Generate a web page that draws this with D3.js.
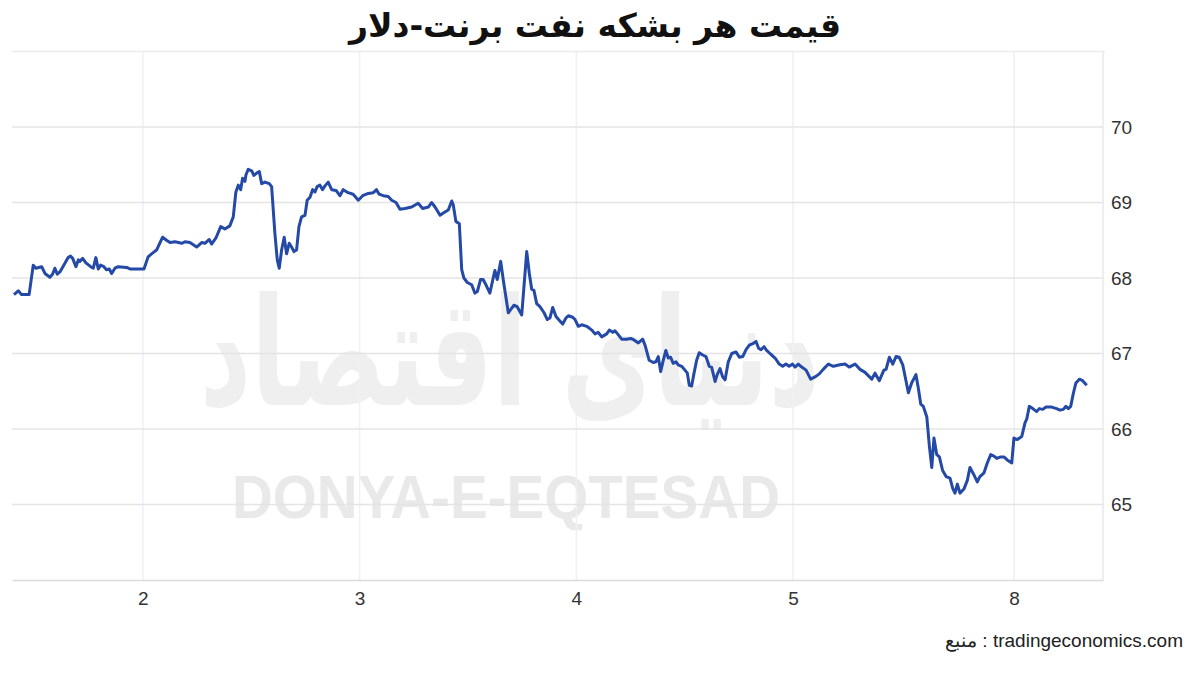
<!DOCTYPE html>
<html>
<head>
<meta charset="utf-8">
<title>Brent</title>
<script src="https://d3js.org/d3.v7.min.js"></script>
<style>
  body { margin: 0; padding: 0; background: #fff; overflow: hidden; }
  svg { display: block; }
</style>
</head>
<body>
<script>
// trading-day position (2 = first tick) and price in dollars
var days = [
  1.405, 1.425, 1.44, 1.475, 1.494, 1.506, 1.533, 1.548, 1.571, 1.583, 1.594, 1.605, 1.617, 1.635,
  1.655, 1.666, 1.676, 1.691, 1.702, 1.709, 1.722, 1.737, 1.759, 1.771, 1.783, 1.794, 1.805, 1.82,
  1.832, 1.845, 1.856, 1.871, 1.886, 1.925, 1.94, 2.005, 2.024, 2.04, 2.063, 2.091, 2.109, 2.125,
  2.148, 2.179, 2.194, 2.217, 2.248, 2.271, 2.286, 2.306, 2.317, 2.337, 2.359, 2.378, 2.401,
  2.417, 2.429, 2.440, 2.451, 2.460, 2.471, 2.475, 2.486, 2.502, 2.512, 2.525, 2.537, 2.548, 2.563,
  2.583, 2.594, 2.609, 2.620, 2.629, 2.640, 2.652, 2.663, 2.675, 2.686, 2.697, 2.709, 2.720, 2.732,
  2.748, 2.758, 2.771, 2.783, 2.794, 2.804, 2.817, 2.829, 2.840, 2.855, 2.871, 2.891, 2.909, 2.924,
  2.947, 2.970, 2.994, 3.014, 3.040, 3.063, 3.078, 3.090, 3.109, 3.132, 3.148, 3.168, 3.186, 3.209,
  3.240, 3.270, 3.291, 3.317, 3.332, 3.348, 3.371, 3.386, 3.409, 3.425, 3.432, 3.444, 3.460, 3.471,
  3.481, 3.497, 3.517, 3.532, 3.543, 3.558, 3.570, 3.586, 3.601, 3.614, 3.624, 3.635, 3.651, 3.663,
  3.686, 3.712, 3.727, 3.748, 3.771, 3.783, 3.794, 3.804, 3.817, 3.832, 3.851, 3.866, 3.878, 3.891,
  3.906, 3.921, 3.937, 3.952, 3.963, 3.983, 3.994, 4.009, 4.025, 4.048, 4.071, 4.086, 4.101, 4.117,
  4.140, 4.152, 4.168, 4.178, 4.193, 4.209, 4.232, 4.251, 4.266, 4.286, 4.306, 4.317, 4.336, 4.355,
  4.367, 4.378, 4.389, 4.401, 4.413, 4.424, 4.435, 4.447, 4.460, 4.470, 4.486, 4.501, 4.512, 4.521,
  4.532, 4.543, 4.555, 4.567, 4.583, 4.598, 4.613, 4.624, 4.640, 4.650, 4.663, 4.675, 4.686, 4.701,
  4.717, 4.737, 4.752, 4.768, 4.783, 4.798, 4.814, 4.829, 4.841, 4.852, 4.866, 4.878, 4.897, 4.917,
  4.936, 4.952, 4.967, 4.982, 4.998, 5.009, 5.024, 5.040, 5.060, 5.081, 5.101, 5.121, 5.139, 5.163,
  5.186, 5.216, 5.240, 5.259, 5.286, 5.309, 5.332, 5.363, 5.378, 5.398, 5.419, 5.429, 5.444, 5.460,
  5.475, 5.490, 5.506, 5.532, 5.547, 5.567, 5.578, 5.589, 5.601, 5.617, 5.629, 5.640, 5.650, 5.663,
  5.675, 5.690, 5.706, 5.724, 5.737, 5.747, 5.758, 5.770, 5.789, 5.804, 5.816, 5.835, 5.850, 5.862,
  5.881, 5.896, 5.912, 5.927, 5.940, 5.958, 5.973, 5.988, 6.009, 6.019, 6.035, 6.055, 6.070, 6.078,
  6.090, 6.106, 6.124, 6.136, 6.152, 6.167, 6.193, 6.216, 6.232, 6.247, 6.259, 6.270, 6.281, 6.293,
  6.305, 6.321, 6.336, 6.355
];
var prices = [
  67.78, 67.83, 67.78, 67.78, 68.17, 68.13, 68.15, 68.06, 68.01, 68.05, 68.13, 68.05, 68.08, 68.17,
  68.27, 68.29, 68.26, 68.15, 68.24, 68.22, 68.26, 68.20, 68.15, 68.13, 68.27, 68.12, 68.17, 68.15,
  68.11, 68.12, 68.06, 68.13, 68.15, 68.14, 68.12, 68.12, 68.28, 68.32, 68.37, 68.54, 68.50, 68.47,
  68.48, 68.46, 68.48, 68.47, 68.41, 68.47, 68.46, 68.51, 68.45, 68.53, 68.68, 68.65, 68.69,
  68.81, 69.14, 69.23, 69.17, 69.32, 69.28, 69.36, 69.44, 69.42, 69.36, 69.39, 69.41, 69.25, 69.27,
  69.25, 69.21, 68.59, 68.24, 68.13, 68.37, 68.54, 68.32, 68.46, 68.41, 68.35, 68.37, 68.68, 68.81,
  68.83, 69.03, 69.07, 69.17, 69.14, 69.21, 69.23, 69.17, 69.22, 69.27, 69.17, 69.16, 69.09, 69.17,
  69.13, 69.11, 69.03, 69.09, 69.12, 69.13, 69.17, 69.11, 69.09, 69.08, 69.03, 69.00, 68.91, 68.92,
  68.94, 68.99, 68.92, 68.94, 69.00, 68.94, 68.83, 68.86, 68.90, 69.02, 68.97, 68.75, 68.72, 68.11,
  68.00, 67.94, 67.91, 67.80, 67.82, 67.98, 67.98, 67.89, 67.80, 67.97, 68.10, 67.98, 68.22, 67.97,
  67.54, 67.64, 67.62, 67.51, 68.35, 68.06, 67.85, 67.84, 67.66, 67.62, 67.54, 67.45, 67.47, 67.61,
  67.49, 67.44, 67.39, 67.47, 67.50, 67.48, 67.45, 67.36, 67.38, 67.36, 67.31, 67.26, 67.28, 67.22,
  67.26, 67.31, 67.28, 67.30, 67.25, 67.19, 67.19, 67.20, 67.18, 67.14, 67.19, 67.11, 66.91, 66.88,
  66.89, 66.96, 66.76, 66.91, 67.04, 66.94, 66.95, 66.87, 66.89, 66.85, 66.83, 66.78, 66.74, 66.58,
  66.57, 66.74, 66.91, 67.01, 66.98, 66.96, 66.83, 66.82, 66.63, 66.72, 66.80, 66.69, 66.65, 66.89,
  67.00, 67.02, 66.95, 66.96, 67.05, 67.11, 67.13, 67.16, 67.07, 67.05, 67.09, 67.04, 66.99, 66.94,
  66.86, 66.83, 66.86, 66.83, 66.86, 66.82, 66.86, 66.82, 66.78, 66.66, 66.69, 66.73, 66.79, 66.86,
  66.83, 66.85, 66.86, 66.82, 66.86, 66.79, 66.75, 66.66, 66.74, 66.64, 66.78, 66.79, 66.95, 66.86,
  66.96, 66.95, 66.85, 66.48, 66.61, 66.72, 66.54, 66.33, 66.30, 66.16, 65.77, 65.49, 65.88, 65.66,
  65.63, 65.45, 65.37, 65.35, 65.21, 65.15, 65.27, 65.15, 65.21, 65.32, 65.49, 65.39, 65.30, 65.37,
  65.42, 65.55, 65.66, 65.64, 65.61, 65.63, 65.63, 65.59, 65.55, 65.88, 65.86, 65.90, 66.08, 66.13,
  66.30, 66.27, 66.23, 66.27, 66.26, 66.29, 66.29, 66.27, 66.25, 66.26, 66.30, 66.27, 66.30, 66.47,
  66.61, 66.66, 66.64, 66.58
];
var xTicks = [2, 3, 4, 5, 6.02];
var xTickLabels = ["2", "3", "4", "5", "8"];
var yTicks = [65, 66, 67, 68, 69, 70];

var title = "قیمت هر بشکه نفت برنت-دلار";
var source = "منبع : tradingeconomics.com";

var width = 1200, height = 693;
var plotL = 12, plotR = 1103, plotT = 51.5, plotB = 580;

var svg = d3.select("body").append("svg")
  .attr("width", width)
  .attr("height", height);

var x = d3.scaleLinear().domain([1.396, 6.43]).range([plotL, plotR]);
var y = d3.scaleLinear().domain([64, 71]).range([plotB, plotT]);

// watermark
var wm = svg.append("g").attr("fill", "#efefef");
wm.append("text")
  .attr("x", 510).attr("y", 405)
  .attr("text-anchor", "middle")
  .attr("font-family", "DejaVu Sans")
  .attr("font-weight", "bold")
  .attr("font-size", 150)
  .attr("textLength", 620)
  .attr("lengthAdjust", "spacingAndGlyphs")
  .text("دنیای اقتصاد");
wm.append("text")
  .attr("x", 232).attr("y", 518)
  .attr("fill", "#e9e9e9")
  .attr("font-family", "Liberation Sans")
  .attr("font-weight", "bold")
  .attr("font-size", 62)
  .attr("textLength", 548)
  .attr("lengthAdjust", "spacingAndGlyphs")
  .text("DONYA-E-EQTESAD");

// vertical grid
svg.append("g").selectAll("line")
  .data(xTicks)
  .enter().append("line")
  .attr("x1", d => x(d)).attr("x2", d => x(d))
  .attr("y1", plotT).attr("y2", plotB)
  .attr("stroke", "#eef1f4").attr("stroke-width", 1.5);

svg.append("line")
  .attr("x1", plotR).attr("x2", plotR)
  .attr("y1", plotT).attr("y2", plotB)
  .attr("stroke", "#e6e9ec").attr("stroke-width", 1.5);

// horizontal grid
svg.append("g").selectAll("line")
  .data(yTicks)
  .enter().append("line")
  .attr("x1", plotL).attr("x2", plotR)
  .attr("y1", d => y(d)).attr("y2", d => y(d))
  .attr("stroke", "#e4e4e4").attr("stroke-width", 1.5);

svg.append("line")
  .attr("x1", plotL).attr("x2", plotR + 2)
  .attr("y1", plotT).attr("y2", plotT)
  .attr("stroke", "#ececec").attr("stroke-width", 1.5);

// axes
var xAxis = d3.axisBottom(x)
  .tickValues(xTicks)
  .tickFormat((d, i) => xTickLabels[i])
  .tickSize(0)
  .tickPadding(12);

svg.append("g")
  .attr("transform", "translate(0," + plotB + ")")
  .call(xAxis)
  .call(g => g.select(".domain").attr("stroke", "#dcdcdc").attr("stroke-width", 1.5))
  .call(g => g.selectAll("text")
    .attr("font-family", "Liberation Sans").attr("font-size", 19).attr("fill", "#333"));

var yAxis = d3.axisRight(y)
  .tickValues(yTicks)
  .tickFormat(d3.format("d"))
  .tickSize(0)
  .tickPadding(8);

svg.append("g")
  .attr("transform", "translate(" + plotR + ",0)")
  .call(yAxis)
  .call(g => g.select(".domain").remove())
  .call(g => g.selectAll("text")
    .attr("font-family", "Liberation Sans").attr("font-size", 19).attr("fill", "#333"));

// price line
var pts = days.map((d, i) => [d, prices[i]]);
var line = d3.line()
  .x(d => x(d[0]))
  .y(d => y(d[1]));

svg.append("path")
  .datum(pts)
  .attr("fill", "none")
  .attr("stroke", "#2449a6")
  .attr("stroke-width", 3)
  .attr("stroke-linejoin", "round")
  .attr("d", line);

// title
svg.append("text")
  .attr("x", 595).attr("y", 37)
  .attr("text-anchor", "middle")
  .attr("font-family", "DejaVu Sans")
  .attr("font-weight", "bold")
  .attr("font-size", 33)
  .attr("fill", "#111")
  .text(title);

// source
svg.append("text")
  .attr("x", 1183).attr("y", 647)
  .attr("text-anchor", "end")
  .attr("direction", "ltr")
  .attr("font-family", "Liberation Sans")
  .attr("font-size", 19)
  .attr("fill", "#222")
  .text(source);
</script>
</body>
</html>
